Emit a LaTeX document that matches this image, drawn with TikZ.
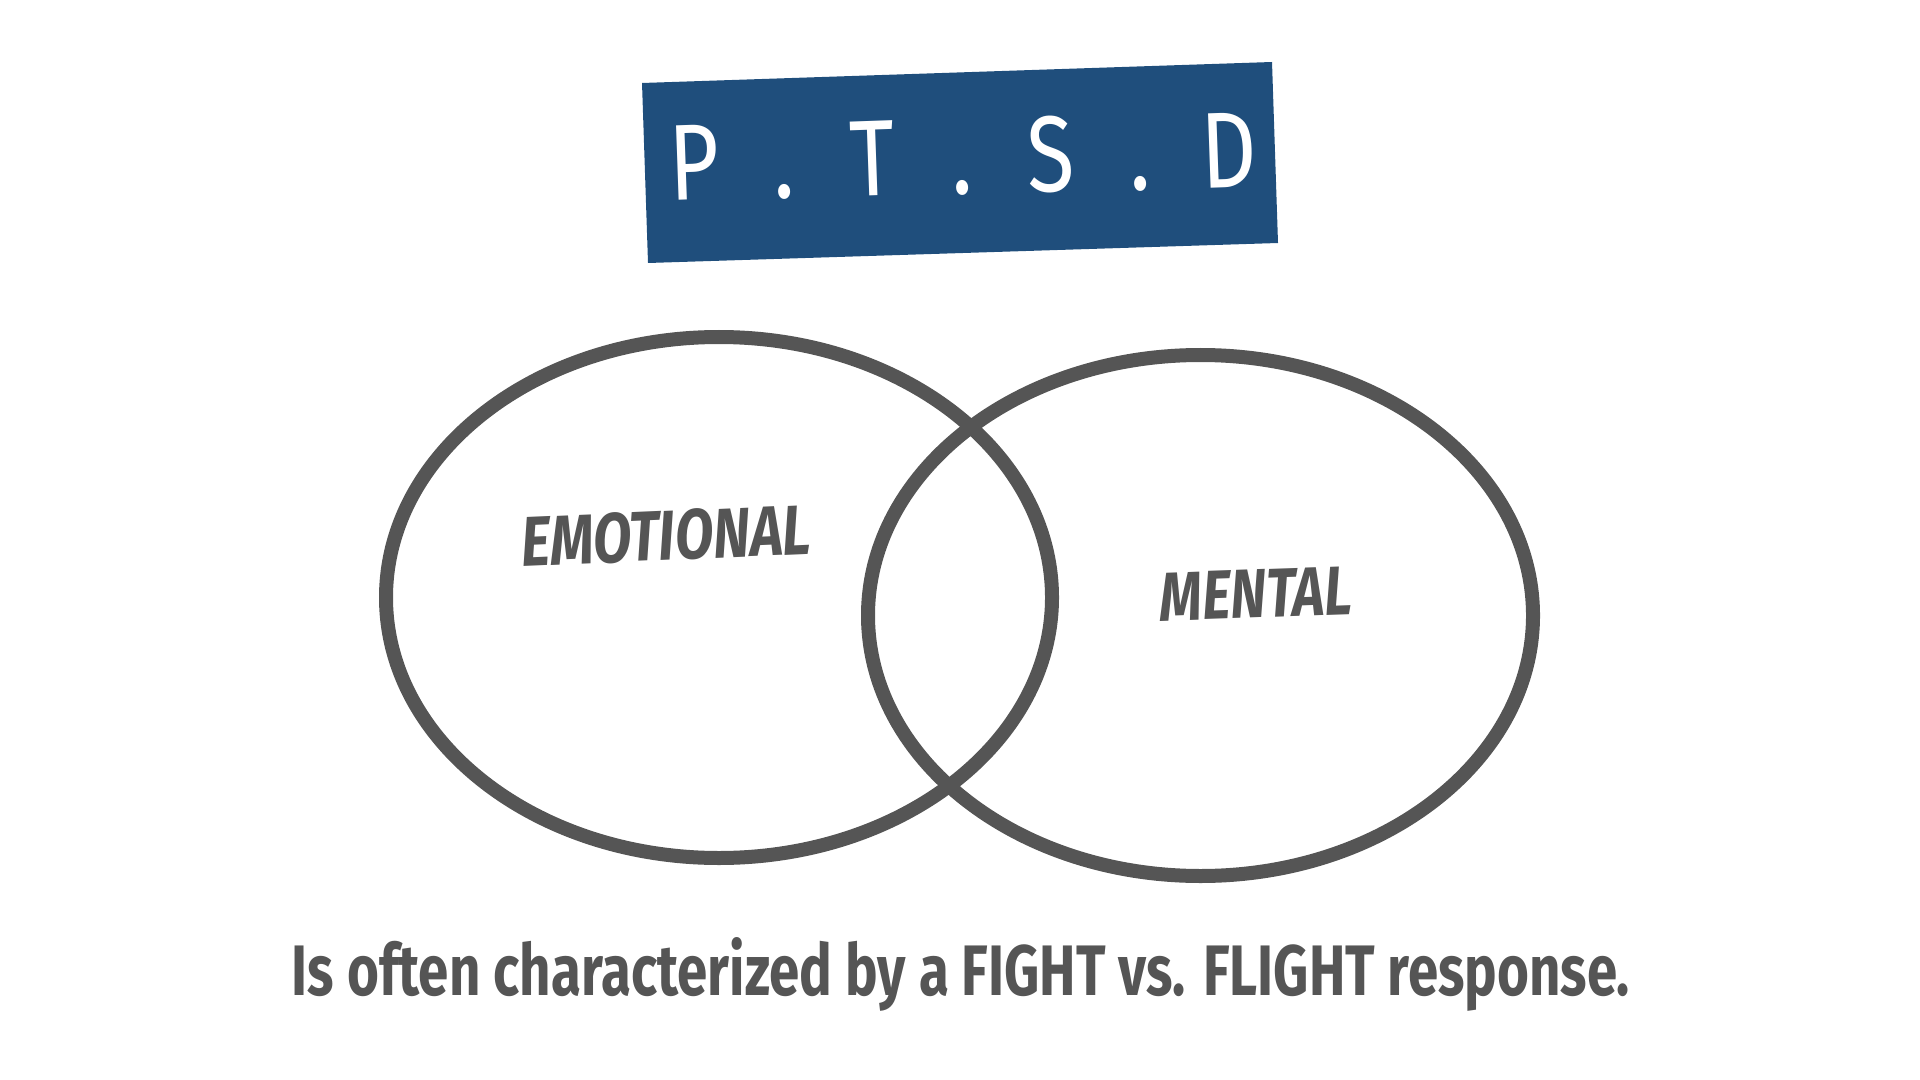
\documentclass[tikz,border=0pt]{standalone}
\usepackage{fontspec}
\setmainfont{Fira Sans}
\usepackage{graphicx}
\definecolor{ptsdblue}{HTML}{1F4E7C}
\definecolor{ptsdgray}{HTML}{555555}

\begin{document}
\begin{tikzpicture}[x=0.5pt,y=-0.5pt]
        \useasboundingbox (0,0) rectangle (1920,1080);

        % 标题框
        \fill[ptsdblue] (642,83) -- (1272,62) -- (1278,243) -- (648,263) -- cycle;
        \foreach \ch [count=\i from 0] in {P,.,T,.,S,.,D}
            \node[text=white,font=\fontsize{54}{54}\selectfont,anchor=base,rotate=2,xscale=0.8] (title\i) at (696+89*\i,200-2*\i) {\ch};

        % 两个椭圆
        \draw[ptsdgray,line width=7pt] (719,597.5) ellipse [x radius=333, y radius=260.5];
        \draw[ptsdgray,line width=7pt] (1200.5,615.5) ellipse [x radius=332.5, y radius=260.5];

        % 添加标签
        \node[text=ptsdgray,rotate=2.5] (emotional) at (666,536) {\resizebox{145pt}{25pt}{\bfseries\itshape EMOTIONAL}};
        \node[text=ptsdgray,rotate=2] (mental) at (1256,594) {\resizebox{96pt}{24pt}{\bfseries\itshape MENTAL}};

        % 底部文字
        \node[text=ptsdgray,anchor=base] (caption) at (961,995) {\resizebox{669pt}{29pt}{\bfseries Is often characterized by a FIGHT vs. FLIGHT response.}};
    \end{tikzpicture}
\end{document}
